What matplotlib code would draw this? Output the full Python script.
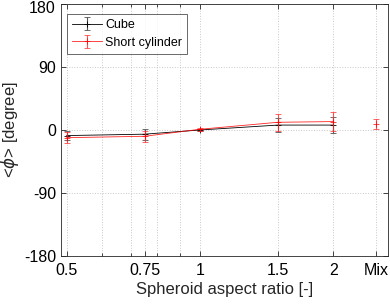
import matplotlib
matplotlib.use("Agg")
import matplotlib.pyplot as plt
import matplotlib.transforms as mtransforms
from matplotlib.ticker import FixedLocator, NullFormatter

plt.rcParams['font.family'] = ['Liberation Sans', 'DejaVu Sans']
plt.rcParams['mathtext.fontset'] = 'dejavusans'

# Data
x_labels = ['0.5', '0.75', '1', '1.5', '2', 'Mix']
x_pos = [0.5, 0.75, 1.0, 1.5, 2.0, 2.5]
cube_x = [0.5, 0.75, 1.0, 1.5, 2.0]
cube_mean = [-8, -6, 0, 7, 7]
cube_err = [7, 8, 2, 10, 11]
cyl_x = [0.5, 0.75, 1.0, 1.5, 2.0]
cyl_mean = [-11, -9, 1, 11, 12]
cyl_err = [8, 8, 2, 12, 13]
mix_x = [2.5]
mix_mean = [8]
mix_err = [7]
minor_x = [0.6, 0.7, 0.8, 0.9]
y_ticks = [-180, -90, 0, 90, 180]

fig = plt.figure(figsize=(3.9, 3.08), dpi=100)
ax = fig.add_axes([0.156, 0.169, 0.839, 0.818])
ax.set_xscale('log')

ax.errorbar(cube_x, cube_mean, yerr=cube_err, color='black', ecolor='#555555',
            lw=0.6, elinewidth=0.8, capsize=2.5, capthick=0.8, marker='+', ms=4,
            mew=0.6, label='Cube', zorder=3)
ax.errorbar(cyl_x, cyl_mean, yerr=cyl_err, color='red', ecolor='#ff3030',
            lw=0.6, elinewidth=0.8, capsize=2.5, capthick=0.8, marker='+', ms=4,
            mew=0.6, label='Short cylinder', alpha=0.85, zorder=4)
ax.errorbar(mix_x, mix_mean, yerr=mix_err, color='red', ecolor='#ff3030',
            lw=0.6, elinewidth=0.8, capsize=2.5, capthick=0.8, marker='+', ms=4,
            mew=0.6, alpha=0.85, zorder=4)

ax.set_xlim(0.485, 2.66)
ax.set_ylim(-180, 180)
ax.xaxis.set_major_locator(FixedLocator(x_pos))
ax.set_xticklabels(x_labels)
ax.xaxis.set_minor_locator(FixedLocator(minor_x))
ax.xaxis.set_minor_formatter(NullFormatter())
ax.set_yticks(y_ticks)
ax.set_yticklabels([str(v) for v in y_ticks])

ax.grid(True, which='major', linestyle=':', color='#c8c8c8', lw=0.7)
ax.grid(True, which='minor', axis='x', linestyle=':', color='#c8c8c8', lw=0.7)

ax.tick_params(which='both', direction='in', top=True, right=True,
               labelsize=11.5, color='#262626', width=0.6)
ax.tick_params(which='major', length=3.5)
ax.tick_params(which='minor', length=2)
ax.tick_params(axis='x', pad=5)
for s in ax.spines.values():
    s.set_color('#262626')
    s.set_linewidth(0.6)

# nudge top y tick label down so it stays inside the figure
top_lbl = ax.get_yticklabels()[-1]
top_lbl.set_transform(top_lbl.get_transform() +
                      mtransforms.ScaledTranslation(0, -2.5 / 100, fig.dpi_scale_trans))

ax.set_xlabel('Spheroid aspect ratio [-]', fontsize=12, color='#262626', labelpad=3)
ax.set_ylabel(r'<$\phi$> [degree]', fontsize=12, color='#262626', labelpad=2)

leg = ax.legend(loc='upper left', bbox_to_anchor=(0.0174, 0.960), borderaxespad=0,
                fontsize=9, frameon=True, fancybox=False,
                edgecolor='#262626', handlelength=2.45, handletextpad=0.25,
                borderpad=0.4, labelspacing=0.45)
leg.get_frame().set_linewidth(0.6)

fig.savefig('out.png', dpi=100)
